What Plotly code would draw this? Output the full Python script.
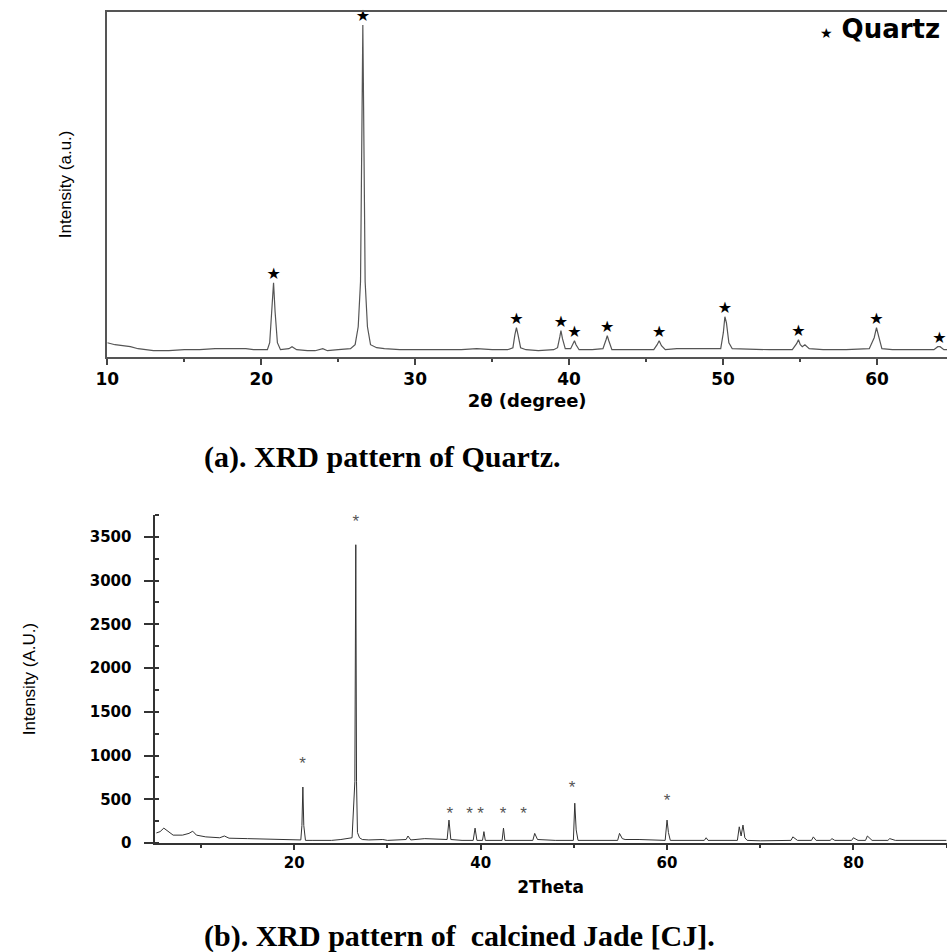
import plotly.graph_objects as go

# ---------------- (a) XRD pattern of Quartz (a.u.) ----------------
quartz_2theta = [10.0, 10.5, 11.0, 11.5, 12.0, 12.5, 13.0, 14.0, 15.0, 16.0, 17.0, 18.0, 19.0, 19.5,
                 20.0, 20.4, 20.55, 20.7, 20.8, 20.9, 21.05, 21.25, 21.8, 22.0, 22.3, 23.0, 23.5,
                 24.0, 24.3, 25.0, 25.8, 26.1, 26.3, 26.45, 26.55, 26.6, 26.65, 26.75, 26.9, 27.1,
                 27.5, 28.0, 29.0, 30.0, 31.0, 32.0, 33.0, 34.0, 35.0, 36.0, 36.35, 36.48, 36.58,
                 36.68, 36.85, 37.2, 38.0, 39.0, 39.25, 39.4, 39.47, 39.57, 39.75, 40.1, 40.25,
                 40.35, 40.45, 40.65, 41.5, 42.2, 42.4, 42.48, 42.58, 42.78, 44.0, 45.5, 45.72,
                 45.85, 46.0, 46.25, 47.0, 48.0, 49.0, 49.85, 50.02, 50.12, 50.22, 50.38, 50.6,
                 52.0, 53.0, 54.5, 54.78, 54.9, 55.02, 55.15, 55.32, 55.6, 56.5, 58.0, 59.5, 59.82,
                 59.97, 60.1, 60.32, 61.0, 62.0, 63.0, 63.7, 63.95, 64.1, 64.35, 64.55]
quartz_intensity = [14, 12, 11, 10, 8, 7, 6, 6, 7, 7, 8, 8, 8, 7,
                    7, 7, 14, 45, 74, 45, 14, 7, 8, 10, 7, 6, 6,
                    8, 6, 7, 8, 12, 30, 75, 250, 332, 250, 75, 30, 12,
                    9, 8, 7, 7, 7, 7, 7, 8, 7, 7, 9, 22, 29,
                    22, 9, 7, 6, 7, 9, 20, 26, 18, 8, 8, 13,
                    16, 12, 7, 7, 8, 17, 21, 16, 7, 7, 7, 12,
                    16, 11, 7, 8, 8, 8, 8, 24, 40, 34, 14, 8,
                    7, 7, 7, 13, 17, 12, 10, 12, 8, 7, 7, 8, 19,
                    29, 21, 8, 7, 7, 7, 7, 10, 10, 7, 7]
quartz_peaks_x = [20.8, 26.6, 36.58, 39.47, 40.35, 42.48, 45.85, 50.12, 54.9, 59.97, 64.05]
quartz_peaks_y = [74, 332, 29, 26, 16, 21, 16, 40, 17, 29, 10]

# ---------------- (b) XRD pattern of calcined Jade [CJ] ----------------
cj_2theta = [5.2, 5.6, 6.0, 6.4, 7.0, 8.0, 8.7, 9.1, 9.5, 10.5, 12.0, 12.5, 13.0, 15.0, 17.0,
             19.0, 20.0, 20.7, 20.82, 20.92, 21.02, 21.2, 22.0, 24.0, 25.0, 26.2, 26.5, 26.6,
             26.68, 26.78, 27.0, 27.3, 28.0, 29.5, 30.0, 32.0, 32.2, 32.5, 34.0, 35.0, 36.4,
             36.6, 36.8, 38.0, 39.2, 39.4, 39.6, 40.2, 40.35, 40.5, 42.3, 42.45, 42.6, 45.6,
             45.8, 46.1, 48.0, 49.95, 50.1, 50.25, 50.45, 54.7, 54.9, 55.2, 55.5, 57.0, 59.8,
             60.0, 60.15, 60.35, 64.0, 64.2, 64.4, 67.55, 67.75, 67.95, 68.15, 68.35, 68.6,
             70.0, 73.3, 73.5, 74.0, 75.5, 75.7, 76.0, 77.5, 77.7, 78.0, 79.8, 80.0, 80.5,
             81.3, 81.5, 82.0, 83.7, 83.9, 84.5, 87.0, 90.0]
cj_intensity = [115, 130, 170, 140, 90, 90, 110, 135, 90, 70, 60, 80, 55, 50, 45,
                45, 40, 35, 200, 640, 200, 30, 30, 30, 40, 60, 700, 3410,
                700, 120, 60, 40, 35, 40, 30, 40, 80, 35, 50, 45, 40,
                262, 40, 30, 30, 170, 30, 30, 130, 30, 30, 170, 30, 30,
                110, 40, 30, 30, 455, 150, 30, 30, 110, 50, 40, 40, 30,
                262, 120, 30, 30, 60, 30, 30, 185, 80, 205, 60, 30,
                25, 30, 70, 30, 30, 70, 30, 30, 50, 30, 30, 60, 30,
                30, 80, 30, 30, 50, 30, 30, 30]
cj_star_x = [20.9, 26.6, 36.7, 38.8, 40.0, 42.4, 44.6, 49.8, 60.0]
cj_star_y = [900, 3660, 323, 323, 323, 323, 323, 616, 466]

fig = go.Figure()

# top panel
fig.add_trace(go.Scatter(x=quartz_2theta, y=quartz_intensity, mode="lines",
                         line=dict(color="#555555", width=1.2), xaxis="x", yaxis="y",
                         showlegend=False, name="Quartz"))
fig.add_trace(go.Scatter(x=quartz_peaks_x, y=quartz_peaks_y, mode="text", text=["★"] * len(quartz_peaks_x),
                         textposition="top center", textfont=dict(family="DejaVu Sans", size=16, color="black"),
                         xaxis="x", yaxis="y", showlegend=False, hoverinfo="skip", cliponaxis=False))

# bottom panel
fig.add_trace(go.Scatter(x=cj_2theta, y=cj_intensity, mode="lines",
                         line=dict(color="#333333", width=1), xaxis="x2", yaxis="y2",
                         showlegend=False, name="CJ"))
fig.add_trace(go.Scatter(x=cj_star_x, y=cj_star_y, mode="text", text=["*"] * len(cj_star_x),
                         textposition="middle center",
                         textfont=dict(family="Liberation Sans", size=17, color="#555555"),
                         xaxis="x2", yaxis="y2", showlegend=False, hoverinfo="skip", cliponaxis=False))

tick_font_top = dict(family="DejaVu Sans", size=17, color="black", weight="bold")
tick_font_bot = dict(family="DejaVu Sans", size=15, color="black", weight="bold")
narrow = "Liberation Sans Narrow, Arial Narrow, Liberation Sans, Arial"

fig.update_layout(
    width=947, height=952,
    margin=dict(l=0, r=0, t=0, b=0),
    paper_bgcolor="white", plot_bgcolor="white",
    xaxis=dict(domain=[107.3 / 947, 1.0], anchor="y", range=[10, 64.55],
               tickmode="linear", tick0=10, dtick=10, ticks="outside", ticklen=6, tickwidth=1.5,
               tickcolor="#444", showline=True, linecolor="#555", linewidth=2, mirror=True,
               showgrid=False, zeroline=False, tickfont=tick_font_top, automargin=False,
               minor=dict(dtick=5, ticks="outside", ticklen=3, tickcolor="#444"),
               title=dict(text="2θ (degree)", font=dict(family="DejaVu Sans", size=18, weight="bold", color="black"),
                          standoff=6)),
    yaxis=dict(domain=[1 - 356.7 / 952, 1 - 12 / 952], anchor="x", range=[0, 345],
               showticklabels=False, ticks="", showline=True, linecolor="#555", linewidth=2,
               showgrid=False, zeroline=False, automargin=False,
               title=dict(text="Intensity (a.u.)", font=dict(family=narrow, size=17, color="black"),
                          standoff=29)),
    xaxis2=dict(domain=[154.5 / 947, 946.6 / 947], anchor="y2", range=[5, 90],
                tickmode="linear", tick0=0, dtick=20, ticks="outside", ticklen=5, tickwidth=1.5,
                tickcolor="#333", showline=True, linecolor="#333", linewidth=2,
                showgrid=False, zeroline=False, tickfont=tick_font_bot, automargin=False,
                minor=dict(dtick=10, ticks="outside", ticklen=3, tickcolor="#333"),
                title=dict(text="2Theta", font=dict(family="DejaVu Sans", size=17, weight="bold", color="black"),
                           standoff=10)),
    yaxis2=dict(domain=[1 - 843 / 952, 1 - 515 / 952], anchor="x2", range=[0, 3750],
                tickmode="linear", tick0=0, dtick=500, ticks="outside", ticklen=9, tickwidth=1.5,
                tickcolor="#333", showline=True, linecolor="#333", linewidth=2,
                showgrid=False, zeroline=False, tickfont=tick_font_bot, automargin=False,
                ticklabelstandoff=9,
                minor=dict(dtick=250, ticks="inside", ticklen=4, tickcolor="#333"),
                title=dict(text="Intensity (A.U.)", font=dict(family=narrow, size=17, color="black"),
                           standoff=50)),
    annotations=[
        dict(text="<span style='font-size:14px'>★</span> Quartz", x=942 / 947, y=1 - 29 / 952,
             xref="paper", yref="paper", xanchor="right", yanchor="middle", showarrow=False,
             font=dict(family="DejaVu Sans", size=26, weight="bold", color="black")),
        dict(text="(a). XRD pattern of Quartz.", x=202 / 947, y=1 - 457 / 952,
             xref="paper", yref="paper", xanchor="left", yanchor="middle", showarrow=False,
             font=dict(family="Liberation Serif", size=30, weight="bold", color="black")),
        dict(text="(b). XRD pattern of  calcined Jade [CJ].", x=202 / 947, y=1 - 936 / 952,
             xref="paper", yref="paper", xanchor="left", yanchor="middle", showarrow=False,
             font=dict(family="Liberation Serif", size=30, weight="bold", color="black")),
    ],
)

fig.write_html("out.html", config={"displayModeBar": False},
               post_script="document.body.style.margin='0';document.body.style.padding='0';"
                           "document.documentElement.style.overflow='hidden';")
